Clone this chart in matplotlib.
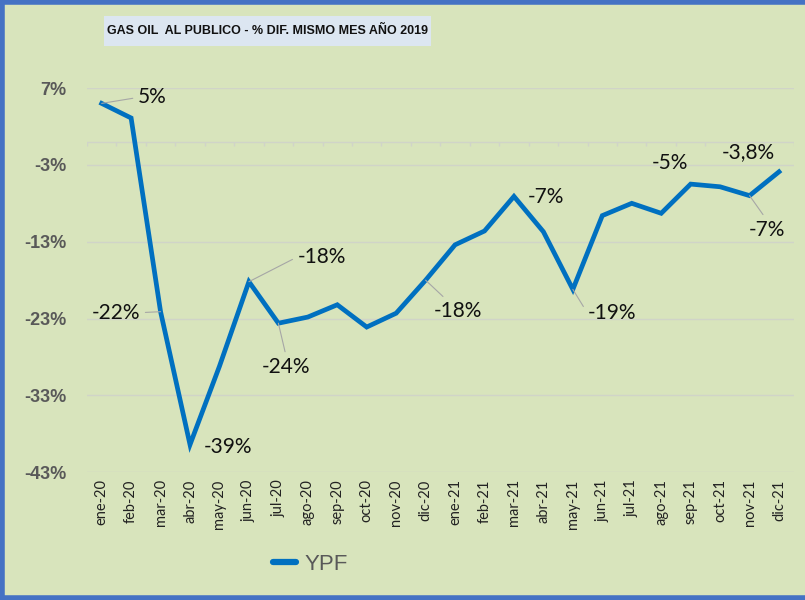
import matplotlib.pyplot as plt
import numpy as np
from matplotlib.lines import Line2D
from matplotlib.patches import Rectangle

plt.rcParams['font.family'] = ['Lato', 'DejaVu Sans']

months = ["ene-20", "feb-20", "mar-20", "abr-20", "may-20", "jun-20", "jul-20", "ago-20",
          "sep-20", "oct-20", "nov-20", "dic-20", "ene-21", "feb-21", "mar-21", "abr-21",
          "may-21", "jun-21", "jul-21", "ago-21", "sep-21", "oct-21", "nov-21", "dic-21"]
ypf = [5.0, 3.1, -22.1, -39.4, -29.2, -18.2, -23.6, -22.8, -21.2, -24.1, -22.3, -18.0,
       -13.4, -11.6, -7.1, -11.7, -19.2, -9.6, -8.0, -9.3, -5.5, -5.85, -7.0, -3.9]
yticks = [7, -3, -13, -23, -33, -43]

# labelled points: index, text, offset in pixels, leader line anchor on the text (None = no leader)
labels = [
    (0, "5%", (51, 6), (0, 0.5)),
    (2, "-22%", (-45, -1), (1, 0.5)),
    (3, "-39%", (38, -2), None),
    (5, "-18%", (73, 25), (0, 0.5)),
    (6, "-24%", (8, -44), (0.5, 1)),
    (11, "-18%", (32, -31), (0.3, 1)),
    (14, "-7%", (32, -1), None),
    (16, "-19%", (39, -24), (0, 0.5)),
    (20, "-5%", (-21, 21), None),
    (22, "-7%", (17, -34), (0.5, 1)),
    (23, "-3,8%", (-31, 20), None),
]

bg = '#D8E4BC'
blue = '#0070C0'
grid = '#D0D4C8'
sans = ['Liberation Sans', 'DejaVu Sans']

fig = plt.figure(figsize=(8.05, 6.0), dpi=100, facecolor=bg)
ax = fig.add_axes([0.108, 0.2128, 0.878, 0.6405])
ax.set_facecolor(bg)

x = np.arange(len(months))
ax.plot(x, ypf, color=blue, lw=3.4, solid_joinstyle='miter', zorder=3)

ax.set_xlim(-0.5, len(months) - 0.5)
ax.set_ylim(-43, 7)
ax.set_yticks(yticks)
ax.set_yticklabels([f"{v}%" for v in yticks], fontsize=13, fontweight='bold', color='#595959',
                   family=sans)
ax.set_xticks(x)
ax.set_xticklabels(months, rotation=90, fontsize=10.5, color='#222222')
ax.tick_params(length=0, pad=5)
ax.tick_params(axis='y', pad=15)
for s in ax.spines.values():
    s.set_visible(False)
for v in yticks:
    ax.axhline(v, color=grid, lw=1, zorder=1)

# horizontal axis at zero with tick marks between categories
ax.axhline(0, color=grid, lw=1, zorder=1)
ax.vlines(np.arange(len(months) + 1) - 0.5, -0.6, 0, color=grid, lw=1, zorder=1)

for i, txt, off, rel in labels:
    kw = {}
    if rel is not None:
        kw['arrowprops'] = dict(arrowstyle='-', color='#A6A6A6', lw=0.8,
                                shrinkA=2, shrinkB=0, relpos=rel)
    ax.annotate(txt, (x[i], ypf[i]), xytext=off, textcoords='offset pixels',
                ha='center', va='center', fontsize=15, color='#111111', zorder=4, **kw)

# title with its pale blue box
fig.add_artist(Rectangle((104 / 805, 1 - 46 / 600), 327 / 805, 30 / 600,
                         transform=fig.transFigure, fc='#DCE6F1', ec='none'))
fig.text(267.5 / 805, 1 - 31 / 600, "GAS OIL  AL PUBLICO - % DIF. MISMO MES AÑO 2019",
         ha='center', va='center', fontsize=9, fontweight='bold', color='#111111',
         family=sans)

h = Line2D([], [], color=blue, lw=4.5, solid_capstyle='round')
fig.legend([h], ["YPF"], loc='center', bbox_to_anchor=(0.386, 0.06), frameon=False,
           prop={'family': sans, 'size': 16}, labelcolor='#595959',
           handlelength=1.0, handletextpad=0.4)

# blue frame on left, top and bottom
fc = '#4472C4'
fig.add_artist(Line2D([0.003, 0.003], [0, 1], color=fc, lw=4, transform=fig.transFigure))
fig.add_artist(Line2D([0, 1], [0.996, 0.996], color=fc, lw=4, transform=fig.transFigure))
fig.add_artist(Line2D([0, 1], [0.004, 0.004], color=fc, lw=4, transform=fig.transFigure))

fig.savefig("out.png", dpi=100, facecolor=bg)
